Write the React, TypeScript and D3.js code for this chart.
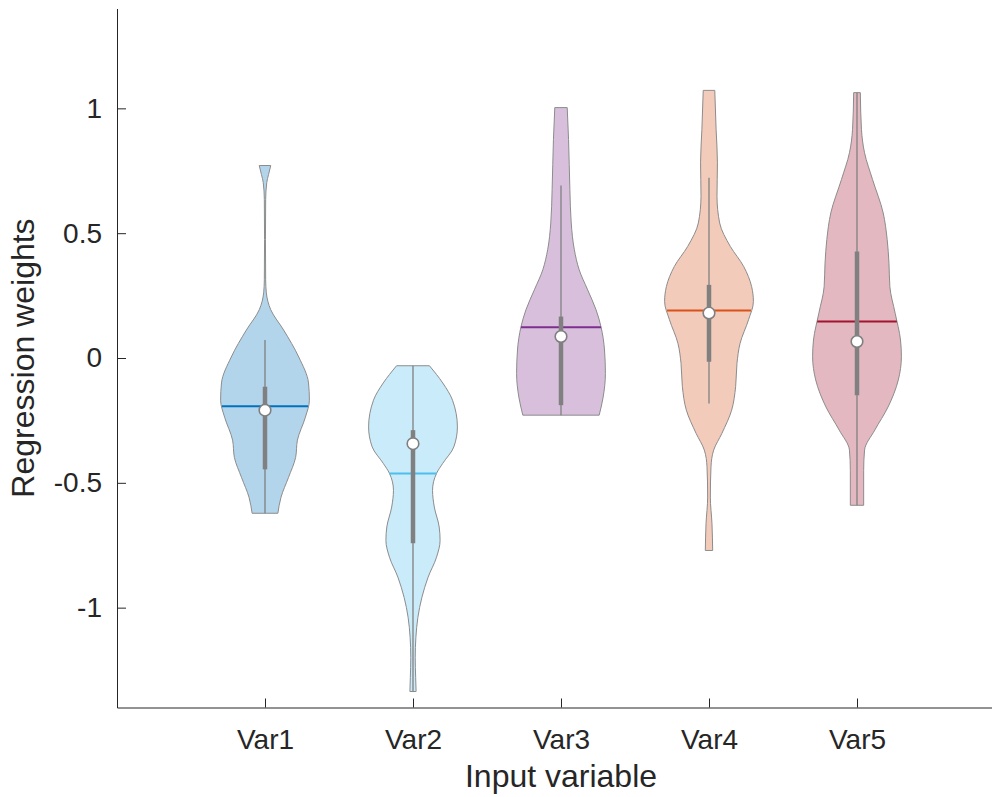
import React, { useRef, useEffect } from 'react';
import * as d3 from 'd3';

// category names on the x axis
const categories = ['Var1', 'Var2', 'Var3', 'Var4', 'Var5'];

// violin outlines: [weight, relative density] from top to bottom
const var1Profile: [number, number][] = [
  [0.771, 0.13], [0.735, 0.08], [0.703, 0.04], [0.635, 0.015], [0.474, 0.01],
  [0.313, 0.015], [0.261, 0.03], [0.193, 0.13], [0.112, 0.42], [0.004, 0.76],
  [-0.1, 0.98], [-0.169, 1.0], [-0.237, 0.91], [-0.329, 0.73], [-0.398, 0.69],
  [-0.478, 0.53], [-0.558, 0.36], [-0.622, 0.29],
];
const var2Profile: [number, number][] = [
  [-0.031, 0.37], [-0.1, 0.67], [-0.169, 0.89], [-0.276, 1.0], [-0.356, 0.92],
  [-0.422, 0.67], [-0.462, 0.53], [-0.53, 0.44], [-0.597, 0.48], [-0.677, 0.59],
  [-0.731, 0.61], [-0.798, 0.53], [-0.878, 0.34], [-0.959, 0.2], [-1.039, 0.11],
  [-1.119, 0.065], [-1.2, 0.05], [-1.28, 0.06], [-1.336, 0.07],
];
const var3Profile: [number, number][] = [
  [1.003, 0.14], [0.875, 0.17], [0.675, 0.2], [0.541, 0.23], [0.434, 0.3],
  [0.353, 0.41], [0.273, 0.6], [0.193, 0.79], [0.126, 0.9], [0.032, 0.98],
  [-0.062, 1.0], [-0.156, 0.95], [-0.229, 0.86],
];
const var4Profile: [number, number][] = [
  [1.072, 0.13], [0.916, 0.16], [0.782, 0.19], [0.648, 0.18], [0.541, 0.24],
  [0.447, 0.48], [0.367, 0.78], [0.286, 0.96], [0.226, 1.0], [0.153, 0.89],
  [0.059, 0.7], [-0.021, 0.63], [-0.115, 0.6], [-0.209, 0.51], [-0.302, 0.29],
  [-0.369, 0.105], [-0.436, 0.045], [-0.557, 0.03], [-0.664, 0.067], [-0.771, 0.083],
];
const var5Profile: [number, number][] = [
  [1.063, 0.075], [0.916, 0.1], [0.822, 0.17], [0.715, 0.35], [0.581, 0.59],
  [0.474, 0.68], [0.38, 0.72], [0.286, 0.74], [0.179, 0.86], [0.072, 0.98],
  [0.005, 1.0], [-0.088, 0.93], [-0.196, 0.7], [-0.289, 0.4], [-0.369, 0.17],
  [-0.45, 0.15], [-0.59, 0.15],
];
const profiles = [var1Profile, var2Profile, var3Profile, var4Profile, var5Profile];

// summary statistics per variable
const means = [-0.193, -0.463, 0.123, 0.19, 0.146];
const medians = [-0.209, -0.343, 0.086, 0.18, 0.066];
const q1 = [-0.446, -0.742, -0.189, -0.015, -0.149];
const q3 = [-0.115, -0.289, 0.166, 0.293, 0.427];
const whiskerLow = [-0.622, -1.336, -0.229, -0.182, -0.59];
const whiskerHigh = [0.072, -0.031, 0.691, 0.722, 1.063];

const yTicks = [-1, -0.5, 0, 0.5, 1];

const fillColors = ['#b3d5eb', '#c9ebfa', '#d8c0dd', '#f3cbba', '#e3b8c0'];
const meanColors = ['#0072bd', '#4dbeee', '#7e2f8e', '#d95319', '#a2142f'];

const W = 992;
const H = 797;
const FONT = '"Liberation Sans", Arial, Helvetica, sans-serif';

const App: React.FC = () => {
  const svgRef = useRef<SVGSVGElement | null>(null);

  useEffect(() => {
    const svg = d3.select(svgRef.current);
    svg.selectAll('*').remove();

    const x = d3.scaleLinear().domain([0, 6]).range([117, 1005]);
    const y = d3.scaleLinear().domain([-1.4, 1.4]).range([707.5, 8.5]);
    const halfW = d3.scaleLinear().domain([0, 1]).range([0, 0.3 * (x(1) - x(0))]);

    // violins
    profiles.forEach((prof, i) => {
      const cx = x(i + 1);
      const area = d3.area<[number, number]>()
        .y(d => y(d[0]))
        .x0(d => cx - halfW(d[1]))
        .x1(d => cx + halfW(d[1]))
        .curve(d3.curveMonotoneY);

      svg.append('path')
        .datum(prof)
        .attr('d', area)
        .attr('fill', fillColors[i])
        .attr('stroke', '#8c8c8c')
        .attr('stroke-width', 1);

      // mean line across the violin
      const asc = [...prof].reverse();
      const dens = d3.scaleLinear().domain(asc.map(d => d[0])).range(asc.map(d => d[1]));
      const mw = halfW(dens(means[i]));
      svg.append('line')
        .attr('x1', cx - mw).attr('x2', cx + mw)
        .attr('y1', y(means[i])).attr('y2', y(means[i]))
        .attr('stroke', meanColors[i])
        .attr('stroke-width', 2);

      // whisker
      svg.append('line')
        .attr('x1', cx).attr('x2', cx)
        .attr('y1', y(whiskerHigh[i])).attr('y2', y(whiskerLow[i]))
        .attr('stroke', '#808080')
        .attr('stroke-width', 1.3);

      // box
      svg.append('line')
        .attr('x1', cx).attr('x2', cx)
        .attr('y1', y(q3[i])).attr('y2', y(q1[i]))
        .attr('stroke', '#808080')
        .attr('stroke-width', 4.5);

      // median
      svg.append('circle')
        .attr('cx', cx).attr('cy', y(medians[i]))
        .attr('r', 5.8)
        .attr('fill', '#fff')
        .attr('stroke', '#808080')
        .attr('stroke-width', 1.6);
    });

    // axes
    const yAxis = svg.append('g')
      .attr('transform', `translate(${x(0)},0)`)
      .call(d3.axisLeft(y).tickValues(yTicks).tickFormat(d => String(d))
        .tickSizeInner(-9).tickSizeOuter(0).tickPadding(15));
    const xAxis = svg.append('g')
      .attr('transform', `translate(0,${y(-1.4)})`)
      .call(d3.axisBottom(x).tickValues([1, 2, 3, 4, 5])
        .tickFormat(d => categories[(d as number) - 1])
        .tickSizeInner(-9).tickSizeOuter(0).tickPadding(22));

    [yAxis, xAxis].forEach(g => {
      g.selectAll('path, line').attr('stroke', '#262626').attr('stroke-width', 1);
      g.selectAll('text')
        .attr('fill', '#262626')
        .style('font-family', FONT)
        .style('font-size', '28px');
    });

    // axis titles
    svg.append('text')
      .attr('x', 561).attr('y', 787)
      .attr('text-anchor', 'middle')
      .attr('fill', '#262626')
      .style('font-family', FONT)
      .style('font-size', '32px')
      .text('Input variable');

    svg.append('text')
      .attr('transform', `translate(34,358) rotate(-90)`)
      .attr('text-anchor', 'middle')
      .attr('fill', '#262626')
      .style('font-family', FONT)
      .style('font-size', '32px')
      .text('Regression weights');
  }, []);

  return (
    <svg
      ref={svgRef}
      width={W}
      height={H}
      style={{ position: 'absolute', left: 0, top: 0, background: '#fff' }}
    />
  );
};

export default App;
